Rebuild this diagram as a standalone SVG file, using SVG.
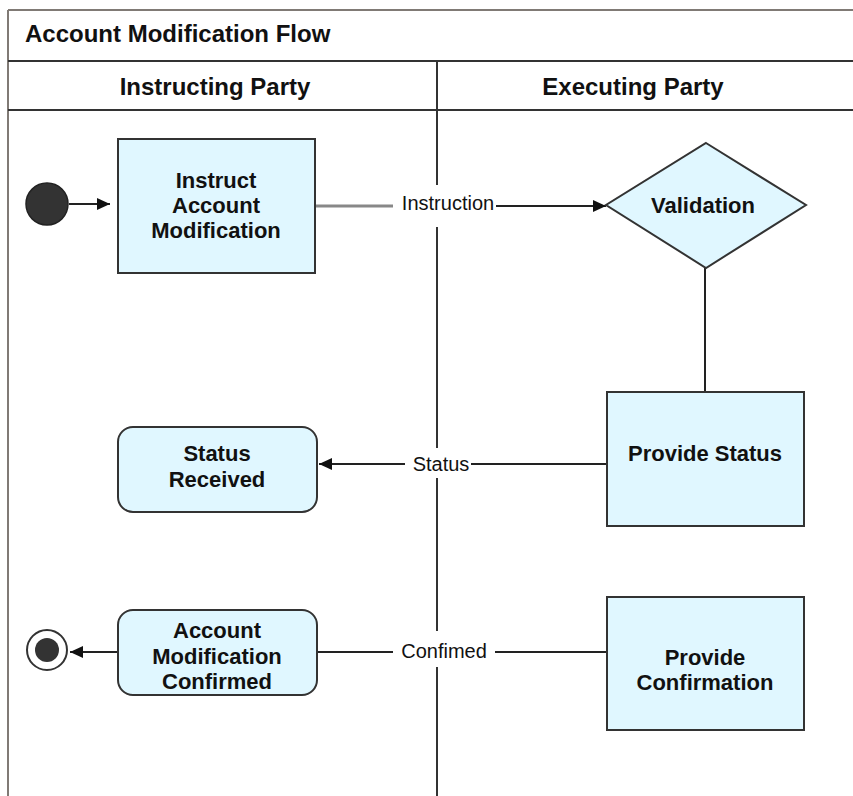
<svg xmlns="http://www.w3.org/2000/svg" width="853" height="796" viewBox="0 0 853 796">
<style>
.node{fill:#e0f7ff;stroke:#333;stroke-width:2}
.t{font-family:"Liberation Sans",Arial,sans-serif;font-weight:bold;font-size:22px;fill:#111;text-anchor:middle}
.h{font-family:"Liberation Sans",Arial,sans-serif;font-weight:bold;font-size:24px;fill:#111}
.lbl{font-family:"Liberation Sans",Arial,sans-serif;font-size:20px;fill:#111;text-anchor:middle}
.ln{stroke:#222;stroke-width:2;fill:none}
</style>
<defs>
<marker id="arr" markerWidth="14" markerHeight="14" refX="13" refY="7" orient="auto" markerUnits="userSpaceOnUse">
<path d="M0,1 L13,7 L0,13 Z" fill="#111"/>
</marker>
</defs>
<rect x="0" y="0" width="853" height="796" fill="#fff"/>
<g id="frame">
<line x1="8" y1="10" x2="853" y2="10" stroke="#807a75" stroke-width="2"/>
<line x1="8" y1="10" x2="8" y2="796" stroke="#807a75" stroke-width="2"/>
<line x1="8" y1="61" x2="853" y2="61" stroke="#333" stroke-width="2"/>
<line x1="8" y1="110" x2="853" y2="110" stroke="#333" stroke-width="2"/>
<path d="M437,61 V185 M437,227 V448 M437,478 V631 M437,667 V796" stroke="#333" stroke-width="2" fill="none"/>
<text class="h" x="25" y="42">Account Modification Flow</text>
<text class="h" x="215" y="95" text-anchor="middle">Instructing Party</text>
<text class="h" x="633" y="95" text-anchor="middle">Executing Party</text>
</g>
<g id="connectors">
<line class="ln" x1="69" y1="204" x2="110" y2="204" marker-end="url(#arr)"/>
<line x1="315" y1="206" x2="393" y2="206" stroke="#888" stroke-width="3"/>
<line class="ln" x1="496" y1="206" x2="606" y2="206" marker-end="url(#arr)"/>
<text class="lbl" x="448" y="210">Instruction</text>
<line class="ln" x1="705" y1="268" x2="705" y2="392"/>
<line class="ln" x1="607" y1="464" x2="471" y2="464"/>
<line class="ln" x1="405" y1="464" x2="319" y2="464" marker-end="url(#arr)"/>
<text class="lbl" x="441" y="471">Status</text>
<line class="ln" x1="607" y1="652" x2="495" y2="652"/>
<line class="ln" x1="393" y1="652" x2="317" y2="652"/>
<text class="lbl" x="444" y="658">Confimed</text>
<line class="ln" x1="117" y1="652" x2="70" y2="652" marker-end="url(#arr)"/>
</g>
<g id="start">
<circle cx="47" cy="204" r="21" fill="#333" stroke="#222" stroke-width="1.5"/>
</g>
<g id="instruct">
<rect class="node" x="118" y="139" width="197" height="134"/>
<text class="t" x="216" y="188">Instruct</text>
<text class="t" x="216" y="213">Account</text>
<text class="t" x="216" y="238">Modification</text>
</g>
<g id="validation">
<polygon class="node" points="706,143 806,205 706,268 606,205"/>
<text class="t" x="703" y="213">Validation</text>
</g>
<g id="provide-status">
<rect class="node" x="607" y="392" width="197" height="134"/>
<text class="t" x="705" y="461">Provide Status</text>
</g>
<g id="status-received">
<rect class="node" x="118" y="427" width="199" height="85" rx="15" ry="15"/>
<text class="t" x="217" y="461">Status</text>
<text class="t" x="217" y="487">Received</text>
</g>
<g id="provide-confirmation">
<rect class="node" x="607" y="597" width="197" height="133"/>
<text class="t" x="705" y="665">Provide</text>
<text class="t" x="705" y="690">Confirmation</text>
</g>
<g id="account-confirmed">
<rect class="node" x="118" y="610" width="199" height="85" rx="15" ry="15"/>
<text class="t" x="217" y="638">Account</text>
<text class="t" x="217" y="664">Modification</text>
<text class="t" x="217" y="689">Confirmed</text>
</g>
<g id="end">
<circle cx="47" cy="650" r="20" fill="#fff" stroke="#333" stroke-width="2"/>
<circle cx="47" cy="650" r="12" fill="#333"/>
</g>
</svg>
